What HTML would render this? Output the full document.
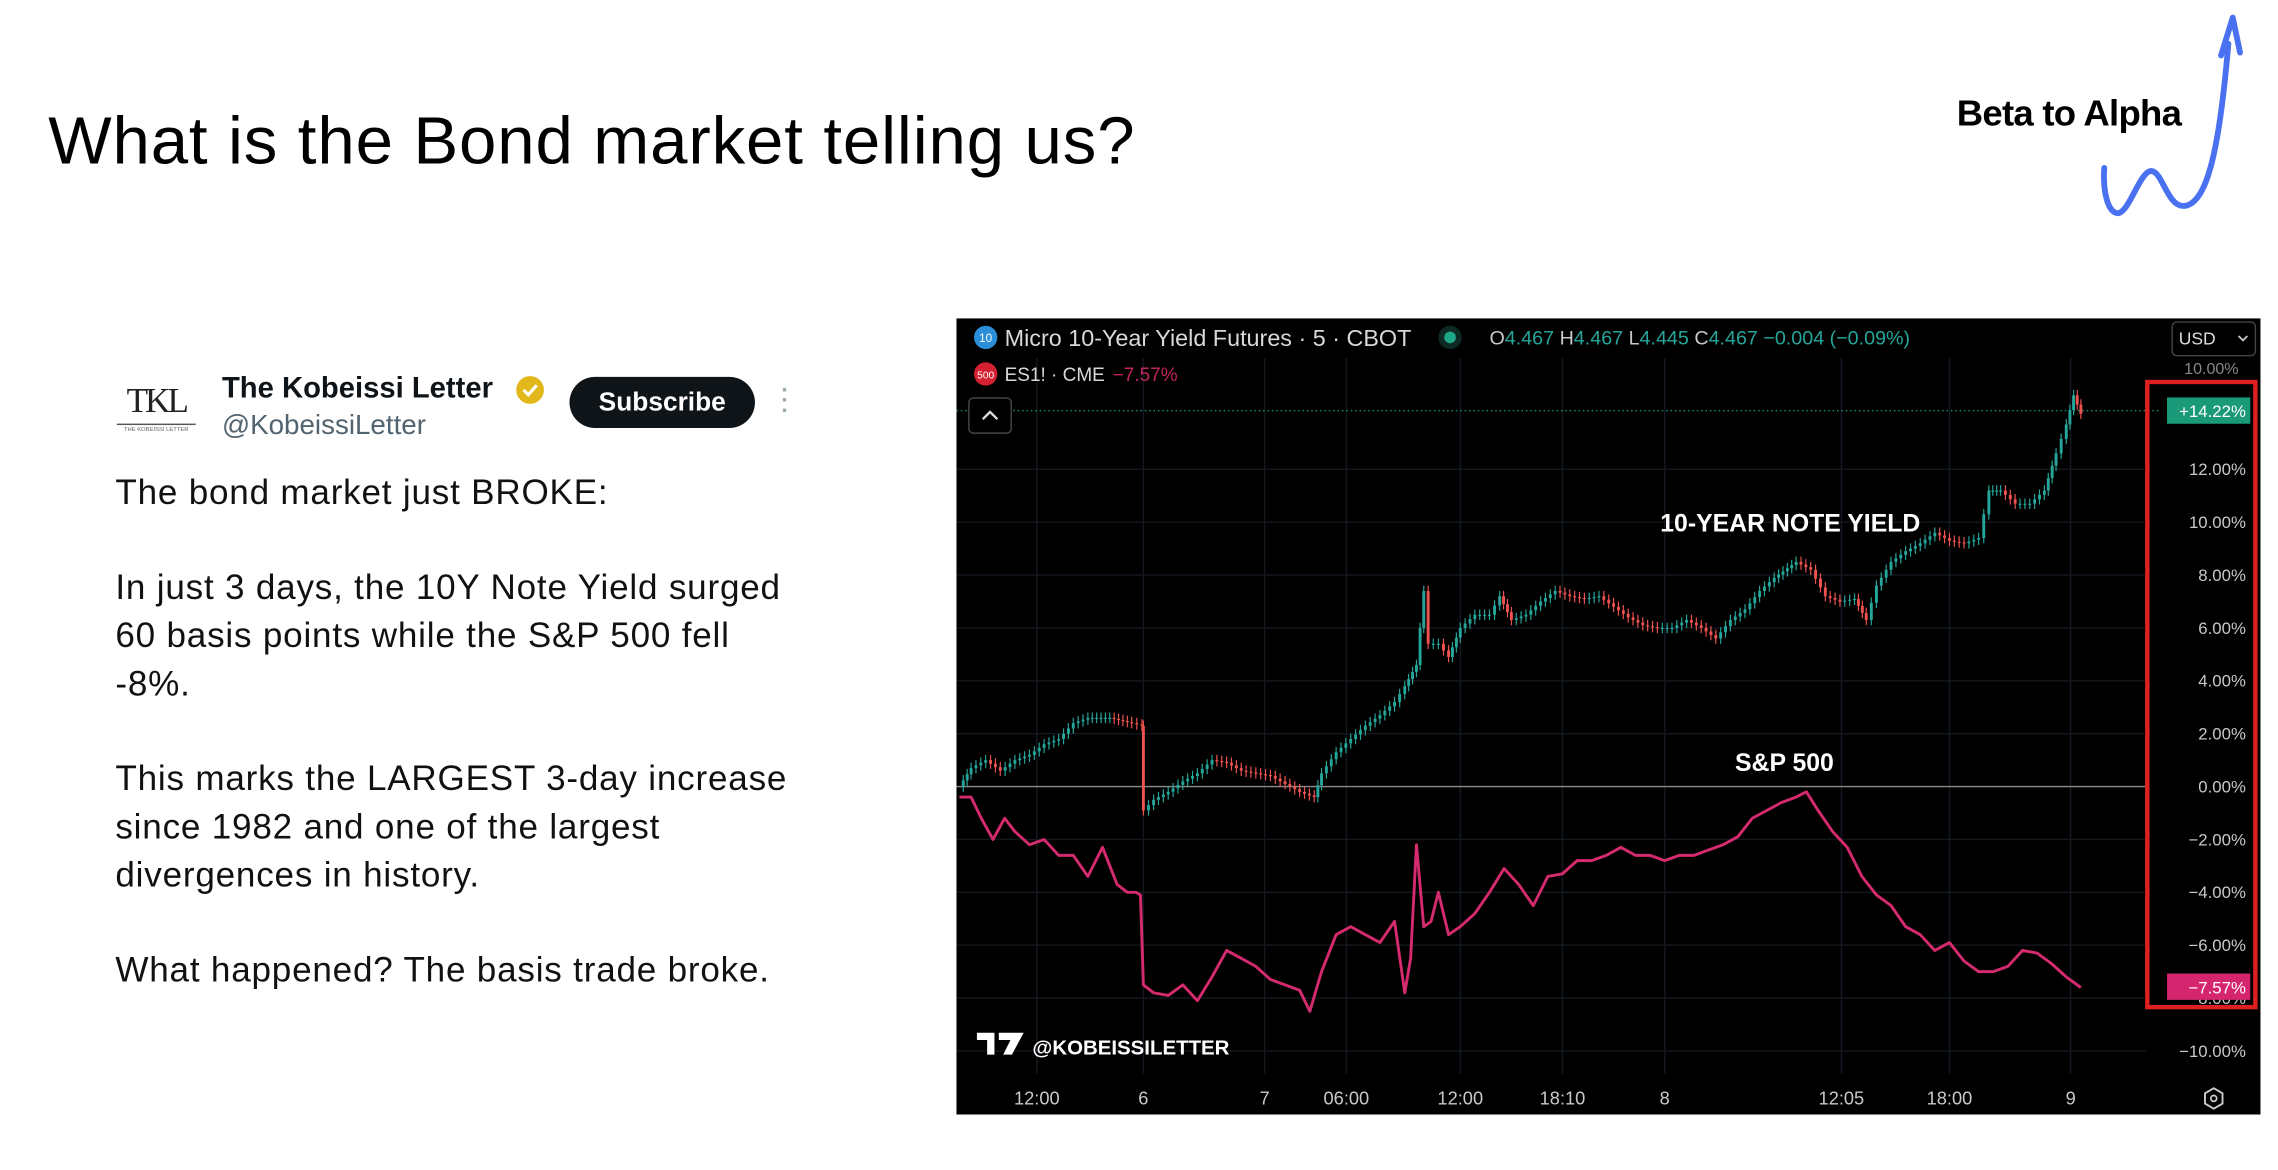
<!DOCTYPE html>
<html><head><meta charset="utf-8">
<style>
html,body{margin:0;padding:0;background:#fff;overflow:hidden;}
#page{position:absolute;left:0;top:0;width:1560px;height:801px;transform-origin:0 0;transform:scale(1.46026,1.46067);font-family:"Liberation Sans",sans-serif;}
.abs{position:absolute;white-space:nowrap;}
#title{left:33px;top:69px;font-size:46px;letter-spacing:0.6px;color:#000;}
#beta{left:1340px;top:64px;font-size:25px;font-weight:bold;color:#000;letter-spacing:-0.5px;}
#body{left:79px;top:322px;font-size:24px;letter-spacing:0.55px;line-height:32.7px;color:#111;}
#body p{margin:0 0 32.7px 0;}
</style></head><body>
<div id="page">
<div id="title" class="abs">What is the Bond market telling us?</div>
<div id="beta" class="abs">Beta to Alpha</div>
<svg class="abs" style="left:0;top:0" width="1560" height="801">
<path d="M1441 115 C1440 130 1443 145 1450 146 C1458 146 1465 118 1473 117 C1481 117 1484 142 1496 141 C1512 139 1520 100 1526 30" fill="none" stroke="#4a72f0" stroke-width="4" stroke-linecap="round"/>
<path d="M1521 38 L1529 12 L1534 36" fill="none" stroke="#4a72f0" stroke-width="4" stroke-linejoin="round" stroke-linecap="round"/>
</svg>
<div class="abs" style="left:80px;top:262px;width:54px;height:36px">
<div style="font-family:'Liberation Serif',serif;font-size:24px;letter-spacing:-2px;text-align:center;line-height:26px;color:#222">TKL</div>
<div style="border-top:1px solid #555;margin-top:2px;font-size:4px;color:#666;text-align:center">THE KOBEISSI LETTER</div>
</div>
<div class="abs" style="left:152px;top:255px;font-size:20px;font-weight:bold;color:#0f1419">The Kobeissi Letter</div>
<svg class="abs" style="left:352px;top:256px" width="22" height="22"><circle cx="11" cy="11" r="9.5" fill="#e2b719"/><path d="M6.5 11 L9.8 14.2 L15.5 7.8" fill="none" stroke="#fff" stroke-width="2.2"/></svg>
<div class="abs" style="left:152px;top:281px;font-size:19px;color:#536471">@KobeissiLetter</div>
<div class="abs" style="left:390px;top:258px;width:127px;height:35px;border-radius:18px;background:#0f1419;color:#fff;font-weight:bold;font-size:18px;line-height:35px;text-align:center">Subscribe</div>
<div class="abs" style="left:535px;top:264px;color:#9aa;font-size:16px;line-height:7px;font-weight:bold">·<br>·<br>·</div>
<div id="body" class="abs">
<p>The bond market just BROKE:</p>
<p>In just 3 days, the 10Y Note Yield surged<br>60 basis points while the S&amp;P 500 fell<br>-8%.</p>
<p>This marks the LARGEST 3-day increase<br>since 1982 and one of the largest<br>divergences in history.</p>
<p>What happened? The basis trade broke.</p>
</div>
<svg id="chart" class="abs" style="left:0;top:0" width="1560" height="801"></svg>
</div>
<script>
const barIdx=[0,8,18,28,38,48,58,68,78,88,103,118,125,126,133,143,153,163,173,183,193,203,213,223,233,243,248,258,268,278,288,298,305,313,318,321,328,335,343,353,363,370,378,388,398,408,418,428,438,448,458,468,478,488,498,508,518,528,538,548,558,573,583,593,603,613,621,628,638,648,658,668,678,688,698,705,713,723,733,743,751,758,763,768];
const yieldVals=[0,0.7,1.0,0.6,1.0,1.2,1.6,1.8,2.4,2.6,2.6,2.4,2.3,-0.9,-0.5,-0.2,0.2,0.5,1.0,0.9,0.6,0.5,0.4,0.1,-0.2,-0.4,0.5,1.3,1.8,2.3,2.7,3.2,3.8,4.6,7.4,5.4,5.4,4.9,6.0,6.5,6.5,7.2,6.3,6.5,7.0,7.4,7.2,7.1,7.2,6.8,6.4,6.1,6.0,6.0,6.3,6.0,5.6,6.3,6.7,7.4,7.9,8.5,8.2,7.2,7.0,7.1,6.3,7.6,8.5,8.9,9.2,9.6,9.3,9.2,9.4,11.2,11.2,10.7,10.7,11.2,12.6,13.7,14.8,14.1];
const spIdx=[0,8,15,23,31,38,48,58,68,78,88,98,108,115,121,124,126,133,143,153,163,173,183,193,203,213,223,233,240,248,258,268,278,288,298,305,309,313,318,323,328,335,343,353,363,373,383,393,403,413,423,433,443,453,463,473,483,493,503,513,523,533,543,553,563,573,580,588,598,608,618,628,638,648,658,668,678,688,698,708,718,728,738,748,758,768];
const spVals=[-0.4,-0.4,-1.2,-2.0,-1.2,-1.7,-2.2,-2.0,-2.6,-2.6,-3.4,-2.3,-3.7,-4.0,-4.0,-4.1,-7.5,-7.8,-7.9,-7.5,-8.1,-7.2,-6.2,-6.5,-6.8,-7.3,-7.5,-7.7,-8.5,-7.0,-5.6,-5.3,-5.6,-5.9,-5.1,-7.8,-6.5,-2.2,-5.3,-5.1,-4.0,-5.6,-5.3,-4.8,-4.0,-3.1,-3.7,-4.5,-3.4,-3.3,-2.8,-2.8,-2.6,-2.3,-2.6,-2.6,-2.8,-2.6,-2.6,-2.4,-2.2,-1.9,-1.2,-0.9,-0.6,-0.4,-0.2,-0.9,-1.7,-2.3,-3.4,-4.1,-4.5,-5.3,-5.6,-6.2,-5.9,-6.6,-7.0,-7.0,-6.8,-6.2,-6.3,-6.7,-7.2,-7.6];
const yTicks=[12,10,8,6,4,2,0,-2,-4,-6,-8,-10];
const xTickLabels=["12:00","6","7","06:00","12:00","18:10","8","12:05","18:00","9"];
const xTickBars=[53,126,209,265,343,413,483,604,678,761];
const lastYield=14.22, lastSP=-7.57;

const svg=document.getElementById('chart');
const NS='http://www.w3.org/2000/svg';
const X0=657,X1=1425,BARMAX=768,Y0=538.5,PX=18.1;
const sx=b=>X0+(X1-X0)*b/BARMAX;
const sy=v=>Y0-v*PX;
function mk(tag,attrs,parent){const e=document.createElementNS(NS,tag);for(const k in attrs)e.setAttribute(k,attrs[k]);(parent||svg).appendChild(e);return e;}
function txt(s,attrs){const e=mk('text',attrs);e.textContent=s;return e;}

let el=mk('rect',{x:655,y:218,width:893,height:545,fill:'#000'});


yTicks.forEach(v=>{const g=mk('line',{x1:655,x2:1470,y1:sy(v),y2:sy(v),stroke:'#131820','stroke-width':1});

});
xTickBars.forEach(b=>{const g=mk('line',{x1:sx(b),x2:sx(b),y1:245,y2:735,stroke:'#131820','stroke-width':1});

});
el=mk('line',{x1:655,x2:1470,y1:sy(0),y2:sy(0),stroke:'#8a8a8a','stroke-width':1});


el=mk('line',{x1:655,x2:1480,y1:sy(lastYield),y2:sy(lastYield),stroke:'#1f8a6a','stroke-width':1,'stroke-dasharray':'1 2'});


yTicks.forEach(v=>{const t=txt((v<0?'−':'')+Math.abs(v).toFixed(2)+'%',{x:1538,y:sy(v)+4,fill:'#c8c8c8','font-size':11.5,'text-anchor':'end','font-family':'Liberation Sans, sans-serif'});

});
txt('10.00%',{x:1533,y:256,fill:'#888','font-size':11,'text-anchor':'end'});
xTickLabels.forEach((s,i)=>{const t=txt(s,{x:sx(xTickBars[i]),y:756,fill:'#c8c8c8','font-size':12.5,'text-anchor':'middle'});

});
let d='';spIdx.forEach((b,i)=>{d+=(i?'L':'M')+sx(b).toFixed(1)+' '+sy(spVals[i]).toFixed(1);});
el=mk('path',{d:d,fill:'none',stroke:'#d42a6e','stroke-width':2,'stroke-linejoin':'round'});


for(let i=1;i<barIdx.length;i++){
  const o=yieldVals[i-1],c=yieldVals[i];
  const steps=Math.max(1,Math.round((barIdx[i]-barIdx[i-1])/3));
  for(let k=1;k<=steps;k++){
    const ob=o+(c-o)*(k-1)/steps, cb=o+(c-o)*k/steps;
    const b=barIdx[i-1]+(barIdx[i]-barIdx[i-1])*k/steps;
    const up=cb>=ob;const col=up?'#26a69a':'#ef5350';
    const x=sx(b);
    const w=mk('line',{x1:x,x2:x,y1:sy(Math.max(ob,cb)+0.2),y2:sy(Math.min(ob,cb)-0.2),stroke:col,'stroke-width':0.8});
    
    
    const r=mk('rect',{x:x-1,y:sy(Math.max(ob,cb)),width:2,height:Math.max(0.8,Math.abs(cb-ob)*PX),fill:col});
    
    
  }
}
el=txt('10-YEAR NOTE YIELD',{x:1226,y:364,fill:'#fff','font-size':17,'font-weight':'bold','text-anchor':'middle'});


el=txt('S&P 500',{x:1222,y:528,fill:'#fff','font-size':17,'font-weight':'bold','text-anchor':'middle'});


el=mk('rect',{x:1484,y:sy(lastYield)-9,width:57,height:18,fill:'#1a9a78'});


txt('+'+lastYield.toFixed(2)+'%',{x:1538,y:sy(lastYield)+4.5,fill:'#fff','font-size':11.5,'text-anchor':'end'});
el=mk('rect',{x:1484,y:sy(lastSP)-9,width:57,height:18,fill:'#d4256e'});


txt('−'+Math.abs(lastSP).toFixed(2)+'%',{x:1538,y:sy(lastSP)+4.5,fill:'#fff','font-size':11.5,'text-anchor':'end'});
el=mk('rect',{x:1470.5,y:261.5,width:74,height:428,fill:'none',stroke:'#e02020','stroke-width':3});


el=mk('circle',{cx:675,cy:231,r:8,fill:'#2a8fd8'});


txt('10',{x:675,y:234,fill:'#fff','font-size':8,'text-anchor':'middle'});
el=txt('Micro 10-Year Yield Futures · 5 · CBOT',{x:688,y:237,fill:'#d8d8d8','font-size':16});


mk('circle',{cx:993,cy:231,r:8,fill:'#0d2a24'});
mk('circle',{cx:993,cy:231,r:4,fill:'#1fa888'});
el=mk('text',{x:1020,y:236,'font-size':13.5,fill:'#c8c8c8'});


el.innerHTML='O<tspan fill="#26a69a">4.467</tspan> H<tspan fill="#26a69a">4.467</tspan> L<tspan fill="#26a69a">4.445</tspan> C<tspan fill="#26a69a">4.467 −0.004 (−0.09%)</tspan>';
el=mk('circle',{cx:675,cy:256,r:8,fill:'#d42030'});


txt('500',{x:675,y:259,fill:'#fff','font-size':7,'text-anchor':'middle'});
el=txt('ES1! · CME',{x:688,y:261,fill:'#d8d8d8','font-size':13});


txt('−7.57%',{x:762,y:261,fill:'#c0265e','font-size':13});
el=mk('rect',{x:663.5,y:272.5,width:29,height:24,rx:3,fill:'#000',stroke:'#444'});


mk('path',{d:'M673 287 L678 282 L683 287',fill:'none',stroke:'#ddd','stroke-width':1.6});
el=mk('rect',{x:1487.5,y:220.5,width:57,height:23,rx:3,fill:'#000',stroke:'#444'});


txt('USD',{x:1492,y:236,fill:'#ddd','font-size':12});
mk('path',{d:'M1533 230 L1536 233 L1539 230',fill:'none',stroke:'#ccc','stroke-width':1.2});
el=txt('@KOBEISSILETTER',{x:707,y:722,fill:'#fff','font-size':14,'font-weight':'bold'});


mk('path',{d:'M669 707 H681 V722 H676 V712 H669 Z',fill:'#fff'});
mk('path',{d:'M684 707 H701 L693 722 H687 L692 712 H684 Z',fill:'#fff'});
el=mk('path',{d:'M1516 745 L1522 748.5 L1522 755.5 L1516 759 L1510 755.5 L1510 748.5 Z',fill:'none',stroke:'#ccc','stroke-width':1.3});


mk('circle',{cx:1516,cy:752,r:2,fill:'none',stroke:'#ccc','stroke-width':1.2});
</script>
</body></html>
